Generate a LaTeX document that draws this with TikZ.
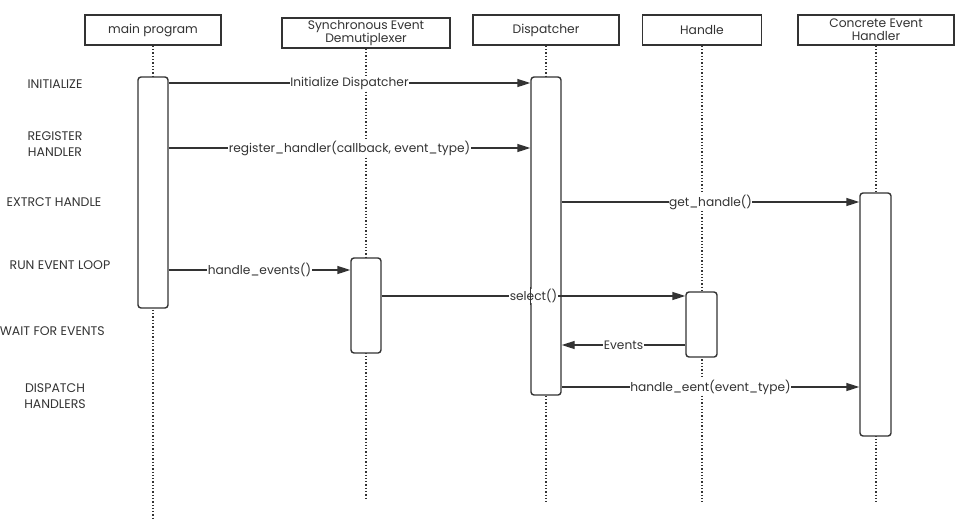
\documentclass[tikz,border=0pt]{standalone}
\usepackage{fontspec}
\setmainfont{Poppins}
\usetikzlibrary{arrows.meta,calc}
\definecolor{ink}{HTML}{333333}
\tikzset{
  hdr/.style={draw=ink, line width=1.6pt, fill=white, align=center, text=ink, font=\fontsize{12.3}{13}\selectfont, inner sep=0pt},
  life/.style={draw=ink, line width=1.3pt, dotted},
  act/.style={draw=ink, line width=1.4pt, fill=white, rounded corners=3pt, minimum width=30pt, inner sep=0pt},
  actline/.style={draw=ink, line width=1.4pt},
  msg/.style={draw=ink, line width=1.4pt, -{Triangle[length=13pt,width=8pt]}},
  lbl/.style={fill=white, text=ink, inner sep=0.5pt, font=\fontsize{12.2}{13}\selectfont},
  side/.style={text=ink, align=center, font=\fontsize{12.5}{16}\selectfont, inner sep=0pt}
}
\begin{document}
\begin{tikzpicture}[x=1pt,y=-1pt]
\useasboundingbox (0,0) rectangle (964,528);
% headers
\node[hdr, minimum width=136pt, minimum height=30pt] (hM) at (153,30) {main program};
\node[hdr, minimum width=168pt, minimum height=30pt] (hS) at (366,33) {Synchronous Event\\Demutiplexer};
\node[hdr, minimum width=146pt, minimum height=30pt] (hD) at (546,30) {Dispatcher};
\node[hdr, minimum width=119pt, minimum height=30pt] (hH) at (702,30) {Handle};
\node[hdr, minimum width=156pt, minimum height=30pt] (hC) at (876,30) {Concrete Event\\Handler};
% lifeline ends
\coordinate (eM) at (153,518);
\coordinate (eS) at (366,500);
\coordinate (eD) at (546,502);
\coordinate (eH) at (702,502);
\coordinate (eC) at (876,502);
\draw[life] (hM.south) -- (eM);
\draw[life] (hS.south) -- (eS);
\draw[life] (hD.south) -- (eD);
\draw[life] (hH.south) -- (eH);
\draw[life] (hC.south) -- (eC);
% activation boxes
\node[act, minimum height=231pt] (aM) at (153,192.5) {};
\node[act, minimum height=318pt] (aD) at (546,236) {};
\node[act, minimum height=95pt] (aS) at (366,305.5) {};
\node[act, minimum height=65pt, minimum width=31pt] (aH) at (701.5,324.5) {};
\node[act, minimum height=243pt, minimum width=31pt] (aC) at (875.5,314.5) {};
% row coordinates
\coordinate (r1) at (0,83);
\coordinate (r2) at (0,148);
\coordinate (r3) at (0,202);
\coordinate (r4) at (0,270);
\coordinate (r5) at (0,296);
\coordinate (r6) at (0,345);
\coordinate (r7) at (0,387);
% messages
\draw[msg] (aM.east |- r1) -- node[lbl]{Initialize Dispatcher} (aD.west |- r1);
\draw[msg] (aM.east |- r2) -- node[lbl]{register\_handler(callback, event\_type)} (aD.west |- r2);
\draw[msg] (aD.east |- r3) -- node[lbl]{get\_handle()} (aC.west |- r3);
\draw[msg] (aM.east |- r4) -- node[lbl]{handle\_events()} (aS.west |- r4);
\draw[msg] (aS.east |- r5) -- node[lbl]{select()} (aH.west |- r5);
\draw[msg] (aH.west |- r6) -- node[lbl]{Events} (aD.east |- r6);
\draw[msg] (aD.east |- r7) -- node[lbl]{handle\_eent(event\_type)} (aC.west |- r7);
% dispatcher edge visible through the select() label
\coordinate (g1) at (0,287);
\coordinate (g2) at (0,305);
\draw[actline] (aD.west |- g1) -- (aD.west |- g2);
% side labels
\node[side] (s1) at (55,84) {INITIALIZE};
\node[side] (s2) at (55,144) {REGISTER\\HANDLER};
\node[side] (s3) at (54,202) {EXTRCT HANDLE};
\node[side] (s4) at (60,265) {RUN EVENT LOOP};
\node[side, anchor=east] (s5) at (105,331) {WAIT FOR EVENTS};
\node[side] (s6) at (55,396) {DISPATCH\\HANDLERS};
\end{tikzpicture}
\end{document}
